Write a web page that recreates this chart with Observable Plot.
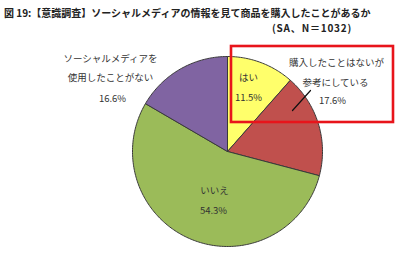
<!DOCTYPE html>
<html><head><meta charset="utf-8">
<script src="https://cdn.jsdelivr.net/npm/d3@7"></script>
<script src="https://cdn.jsdelivr.net/npm/@observablehq/plot@0.6"></script>
<style>
body{margin:0;background:#fff;font-family:"Noto Sans CJK JP",sans-serif;}
#wrap{position:relative;width:400px;height:254px;overflow:hidden;}
.t{position:absolute;font-weight:bold;font-size:10px;color:#222;white-space:nowrap;line-height:12px;}
#chart{position:absolute;left:0;top:36px;}
</style></head>
<body><div id="wrap">
<div class="t" style="left:4px;top:7px;">図 19:【意識調査】ソーシャルメディアの情報を見て商品を購入したことがあるか</div>
<div class="t" style="left:272px;top:22px;letter-spacing:0.8px;">(SA、N＝1032)</div>
<div id="chart"></div>
</div>
<script>
const categories = ["はい", "購入したことはないが参考にしている", "いいえ", "ソーシャルメディアを使用したことがない"];
const values = [11.5, 17.6, 54.3, 16.6];
const colors = ["#FFFF6B", "#C0504D", "#9BBB59", "#8064A2"];
const valueLabels = ["11.5%", "17.6%", "54.3%", "16.6%"];

const W = 400, H = 218;
const cx = 227, cy = 115, r = 95;
const total = d3.sum(values);
const pts = [];
let acc = 0;
categories.forEach((c, i) => {
  const a0 = acc / total * 2 * Math.PI;
  acc += values[i];
  const a1 = acc / total * 2 * Math.PI;
  pts.push({k: c, col: colors[i], x: cx, y: cy});
  const n = Math.max(2, Math.ceil((a1 - a0) / (Math.PI / 180)));
  for (let j = 0; j <= n; j++) {
    const a = a0 + (a1 - a0) * j / n;
    pts.push({k: c, col: colors[i], x: cx + r * Math.sin(a), y: cy - r * Math.cos(a)});
  }
  pts.push({k: c, col: colors[i], x: cx, y: cy});
});

const labels = [
  {x: 248, y: 41, t: categories[0]},
  {x: 248, y: 61, t: valueLabels[0]},
  {x: 336, y: 26, t: "購入したことはないが"},
  {x: 335, y: 46, t: "参考にしている"},
  {x: 332, y: 64, t: valueLabels[1]},
  {x: 214, y: 154, t: categories[2]},
  {x: 213, y: 174, t: valueLabels[2]},
  {x: 110, y: 22, t: "ソーシャルメディアを"},
  {x: 110, y: 41, t: "使用したことがない"},
  {x: 112, y: 62, t: valueLabels[3]}
];

const plot = Plot.plot({
  width: W, height: H,
  margin: 0,
  x: {domain: [0, W], range: [0, W], axis: null},
  y: {domain: [0, H], range: [0, H], axis: null},
  color: {type: "identity"},
  style: {fontFamily: "'Noto Sans CJK JP', sans-serif", background: "transparent"},
  marks: [
    Plot.line(pts, {x: "x", y: "y", z: "k", fill: "col", stroke: "#3a3a3a", strokeWidth: 1, curve: "linear"}),
    Plot.line([{x: 292, y: 74}, {x: 310, y: 54}], {x: "x", y: "y", stroke: "#111", strokeWidth: 1.2}),
    Plot.rect([{x1: 231, x2: 393, y1: 10, y2: 86}], {x1: "x1", x2: "x2", y1: "y1", y2: "y2", fill: "none", stroke: "#E8141B", strokeWidth: 2.6}),
    Plot.text(labels, {x: "x", y: "y", text: "t", fontSize: 9.5, fill: "#333", textAnchor: "middle"})
  ]
});
document.getElementById("chart").appendChild(plot);
</script>
</body></html>
